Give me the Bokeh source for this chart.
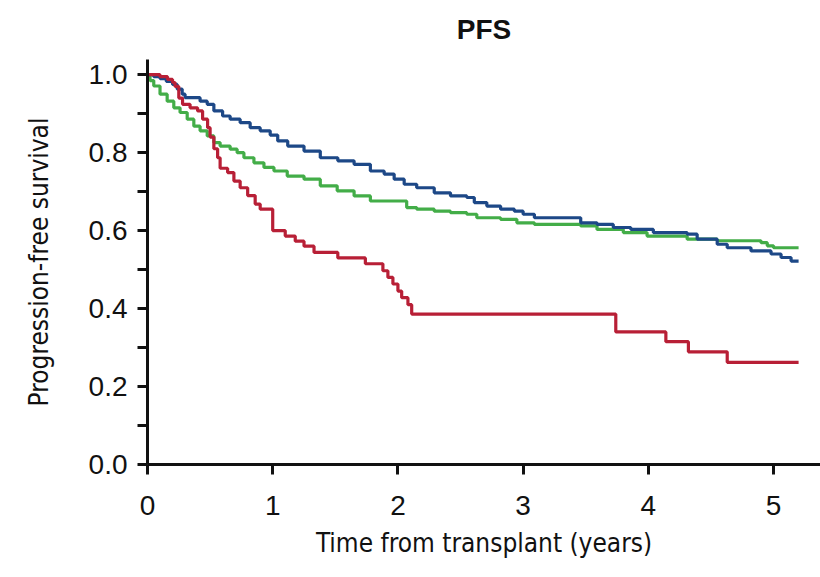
from bokeh.plotting import figure
from bokeh.models import Range1d, FixedTicker
from bokeh.embed import file_html
from bokeh.resources import INLINE

# Kaplan-Meier progression-free survival, three groups (time in years, survival after each event)
blue_t = [0, 0.05, 0.10, 0.15, 0.20, 0.237, 0.277, 0.30, 0.42, 0.477, 0.53, 0.60, 0.66, 0.74,
          0.82, 0.90, 0.98, 1.04, 1.12, 1.25, 1.38, 1.52, 1.65, 1.78, 1.89, 1.97, 2.05, 2.15,
          2.29, 2.42, 2.55, 2.61, 2.71, 2.82, 2.93, 3.00, 3.09, 3.46, 3.59, 3.72, 3.86, 4.04,
          4.31, 4.39, 4.55, 4.63, 4.82, 4.98, 5.06, 5.14, 5.20]
blue_s = [1.0, 0.995, 0.99, 0.983, 0.975, 0.963, 0.95, 0.941, 0.932, 0.924, 0.907, 0.894, 0.886,
          0.877, 0.864, 0.856, 0.845, 0.83, 0.817, 0.804, 0.787, 0.779, 0.77, 0.753, 0.745, 0.732,
          0.719, 0.71, 0.697, 0.689, 0.685, 0.672, 0.663, 0.655, 0.65, 0.642, 0.633, 0.62, 0.616,
          0.608, 0.603, 0.595, 0.591, 0.578, 0.565, 0.556, 0.548, 0.54, 0.531, 0.522, 0.522]

green_t = [0, 0.02, 0.05, 0.10, 0.157, 0.21, 0.26, 0.317, 0.37, 0.42, 0.477, 0.53, 0.58, 0.66,
           0.716, 0.77, 0.85, 0.93, 1.01, 1.116, 1.25, 1.38, 1.515, 1.65, 1.78, 2.07, 2.15, 2.29,
           2.42, 2.55, 2.63, 2.82, 2.95, 3.09, 3.46, 3.59, 3.80, 3.99, 4.31, 4.55, 4.90, 4.95,
           5.00, 5.20]
green_s = [1.0, 0.985, 0.971, 0.95, 0.932, 0.915, 0.903, 0.886, 0.868, 0.856, 0.843, 0.826, 0.817,
           0.809, 0.80, 0.787, 0.774, 0.762, 0.753, 0.74, 0.732, 0.715, 0.702, 0.689, 0.676, 0.659,
           0.655, 0.65, 0.646, 0.642, 0.633, 0.629, 0.62, 0.616, 0.612, 0.603, 0.595, 0.586, 0.578,
           0.574, 0.569, 0.561, 0.556, 0.556]

red_t = [0, 0.10, 0.16, 0.20, 0.22, 0.25, 0.28, 0.34, 0.40, 0.44, 0.48, 0.50, 0.53, 0.56, 0.58,
         0.64, 0.69, 0.74, 0.80, 0.86, 0.90, 1.00, 1.10, 1.18, 1.25, 1.33, 1.52, 1.74, 1.88, 1.92,
         1.96, 2.00, 2.03, 2.08, 2.11, 2.13, 3.74, 4.14, 4.32, 4.63, 5.20]
red_s = [1.0, 0.995, 0.988, 0.98, 0.97, 0.94, 0.924, 0.915, 0.907, 0.886, 0.864, 0.84, 0.81,
         0.787, 0.76, 0.749, 0.727, 0.71, 0.69, 0.668, 0.655, 0.60, 0.586, 0.573, 0.56, 0.544,
         0.53, 0.515, 0.497, 0.48, 0.463, 0.445, 0.428, 0.41, 0.386, 0.386, 0.34, 0.315, 0.289,
         0.262, 0.262]

x_ticks = [0, 1, 2, 3, 4, 5]
y_ticks = [0.0, 0.2, 0.4, 0.6, 0.8, 1.0]
y_minor = [0.1, 0.3, 0.5, 0.7, 0.9]

LABEL_FONT = "'DejaVu Sans Condensed', 'Roboto Condensed', 'Liberation Sans Narrow', Roboto, sans-serif"

p = figure(width=820, height=577, output_backend="svg", toolbar_location=None,
           x_range=Range1d(0, 5.375), y_range=Range1d(0, 1.039),
           min_border_left=147, min_border_right=0, min_border_top=58, min_border_bottom=113,
           title="PFS")

p.title.text_font = "Liberation Sans"
p.title.text_font_size = "28px"
p.title.text_font_style = "bold"
p.title.align = "center"
p.title.vertical_align = "top"
p.title.text_color = "#111111"
p.title.standoff = 26

p.outline_line_color = None
p.xgrid.visible = False
p.ygrid.visible = False
p.background_fill_color = "white"
p.border_fill_color = "white"

for t, s, c in [(green_t, green_s, "#43ad48"), (blue_t, blue_s, "#1d4887"), (red_t, red_s, "#b81f36")]:
    p.step(t, s, mode="after", line_color=c, line_width=3.2)

xa = p.xaxis[0]
ya = p.yaxis[0]
xa.ticker = FixedTicker(ticks=x_ticks, minor_ticks=[])
ya.ticker = FixedTicker(ticks=y_ticks, minor_ticks=y_minor)
ya.major_label_overrides = {v: f"{v:.1f}" for v in y_ticks}

for ax in (xa, ya):
    ax.axis_line_width = 3
    ax.axis_line_color = "#111111"
    ax.major_tick_line_width = 3
    ax.major_tick_line_color = "#111111"
    ax.major_tick_out = 10
    ax.major_tick_in = 0
    ax.minor_tick_line_width = 3
    ax.minor_tick_line_color = "#111111"
    ax.minor_tick_out = 10
    ax.minor_tick_in = 0
    ax.major_label_text_font = "Liberation Sans"
    ax.major_label_text_font_size = "28px"
    ax.major_label_text_color = "#111111"
    ax.axis_label_text_font = LABEL_FONT
    ax.axis_label_text_font_size = "26px"
    ax.axis_label_text_font_style = "normal"
    ax.axis_label_text_color = "#111111"

xa.axis_label = "Time from transplant (years)"
ya.axis_label = "Progression-free survival"
xa.major_label_standoff = 21
ya.major_label_standoff = 10
xa.axis_label_standoff = 10
ya.axis_label_standoff = 32

open("out.html", "w").write(file_html(p, INLINE))
